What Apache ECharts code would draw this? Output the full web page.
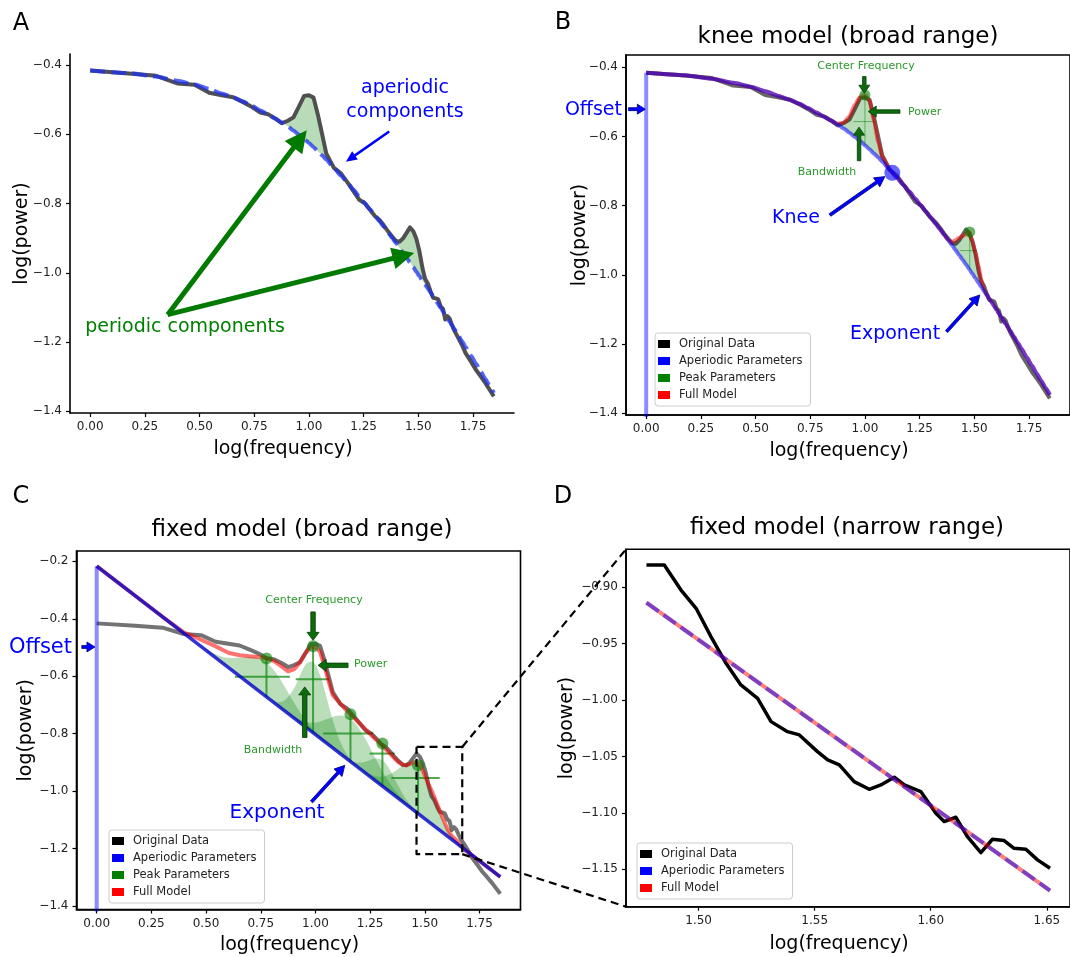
<!DOCTYPE html>
<html>
<head>
<meta charset="utf-8">
<title>Spectral parameterization: knee and fixed models</title>
<script src="https://cdn.jsdelivr.net/npm/echarts@6.0.0/dist/echarts.min.js"></script>
<style>
  html, body { margin: 0; padding: 0; background: #ffffff; }
  #chart { width: 1070px; height: 957px; }
</style>
</head>
<body>
<div id="chart"></div>
<script>
// ---------------- data ----------------
// log10(frequency) of the broad-range spectrum (1-70 Hz)
const logFreq = [0.000,0.176,0.301,0.398,0.477,0.544,0.602,0.653,0.699,0.740,
  0.778,0.813,0.845,0.875,0.903,0.929,0.954,0.978,1.000,1.021,
  1.041,1.061,1.079,
  1.114,1.146,1.176,1.204,1.230,1.255,1.279,1.301,1.322,1.342,
  1.362,1.380,1.398,1.415,1.431,1.447,1.462,1.477,1.491,1.505,
  1.519,1.531,1.544,1.556,1.568,1.580,1.591,1.602,1.613,1.623,
  1.633,1.643,1.653,
  1.663,1.681,1.699,1.716,1.740,1.763,1.785,1.806,1.826,1.845];

// measured log power
const originalPower = [-0.416,-0.424,-0.431,-0.453,-0.457,-0.480,-0.487,-0.493,-0.507,-0.521,
  -0.537,-0.542,-0.554,-0.568,-0.561,-0.551,-0.520,-0.489,-0.487,-0.494,
  -0.544,-0.602,-0.655,
  -0.697,-0.713,-0.739,-0.765,-0.789,-0.799,-0.818,-0.836,-0.847,-0.863,
  -0.881,-0.895,-0.908,-0.910,-0.900,-0.884,-0.869,-0.880,-0.902,-0.938,
  -0.987,-1.018,-1.032,-1.054,-1.072,-1.074,-1.077,-1.097,-1.104,-1.135,
  -1.125,-1.132,-1.149,
  -1.165,-1.186,-1.208,-1.232,-1.256,-1.280,-1.299,-1.318,-1.338,-1.357];

// knee model: aperiodic fit and full model
const kneeAperiodic = [-0.416,-0.423,-0.433,-0.445,-0.456,-0.469,-0.482,-0.493,-0.505,-0.518,
  -0.531,-0.543,-0.554,-0.565,-0.577,-0.589,-0.601,-0.613,-0.625,-0.637,
  -0.649,-0.661,-0.673,
  -0.697,-0.719,-0.740,-0.760,-0.780,-0.799,-0.817,-0.834,-0.851,-0.867,
  -0.884,-0.899,-0.914,-0.929,-0.943,-0.957,-0.970,-0.984,-0.997,-1.010,
  -1.023,-1.034,-1.046,-1.057,-1.069,-1.080,-1.091,-1.101,-1.112,-1.122,
  -1.132,-1.142,-1.151,
  -1.161,-1.179,-1.197,-1.214,-1.239,-1.262,-1.285,-1.306,-1.327,-1.347];

const kneeFullModel = [-0.416,-0.423,-0.433,-0.445,-0.456,-0.469,-0.482,-0.493,-0.505,-0.518,
  -0.531,-0.543,-0.554,-0.563,-0.560,-0.542,-0.508,-0.485,-0.480,-0.497,
  -0.553,-0.618,-0.658,
  -0.697,-0.719,-0.740,-0.760,-0.780,-0.799,-0.817,-0.834,-0.851,-0.867,
  -0.884,-0.899,-0.906,-0.899,-0.893,-0.888,-0.881,-0.876,-0.903,-0.935,
  -0.975,-1.012,-1.043,-1.057,-1.069,-1.080,-1.091,-1.101,-1.112,-1.122,
  -1.132,-1.142,-1.151,
  -1.161,-1.179,-1.197,-1.214,-1.239,-1.262,-1.285,-1.306,-1.327,-1.347];

// fixed model: full model and straight aperiodic fit
const fixedFullModel = [-0.217,-0.320,-0.393,-0.447,-0.473,-0.496,-0.518,-0.527,-0.530,-0.533,
  -0.538,-0.548,-0.566,-0.583,-0.575,-0.552,-0.520,-0.499,-0.499,-0.515,
  -0.565,-0.620,-0.665,
  -0.695,-0.722,-0.744,-0.766,-0.786,-0.805,-0.822,-0.838,-0.854,-0.870,
  -0.886,-0.899,-0.907,-0.910,-0.906,-0.900,-0.898,-0.908,-0.928,-0.955,
  -0.980,-0.998,-1.022,-1.045,-1.068,-1.090,-1.110,-1.130,-1.144,-1.155,
  -1.163,-1.170,-1.178,
  -1.188,-1.205,-1.213,-1.223,-1.237,-1.250,-1.263,-1.275,-1.287,-1.298];
const fixedAperiodicFreq = [0.000, 1.845];
const fixedAperiodicPower = [-0.217, -1.298];

// knee-model parameters
const kneeOffset = -0.416;
const kneePoint = [1.125, -0.705];
const kneePeakSpans = [[0.875, 1.114], [1.398, 1.556]];
const kneePeakCenters = [1.000, 1.479];
const kneePeakTops = [-0.480, -0.876];
const kneePeakBases = [-0.625, -0.986];
const kneePeakHalfLevels = [-0.557, -0.930];
const kneePeakLows = [0.947, 1.434];
const kneePeakHighs = [1.046, 1.510];

// fixed-model parameters
const fixedOffset = -0.217;
const fixedPeakCenters = [0.776, 0.989, 1.160, 1.306, 1.469];
const fixedPeakTops = [-0.538, -0.496, -0.732, -0.834, -0.910];
const fixedPeakBases = [-0.672, -0.797, -0.897, -0.982, -1.078];
const fixedPeakHalfLevels = [-0.602, -0.610, -0.799, -0.869, -0.954];
const fixedPeakLows = [0.632, 0.910, 1.035, 1.248, 1.347];
const fixedPeakHighs = [0.883, 1.062, 1.263, 1.362, 1.568];

// individual gaussians drawn on top of the fixed aperiodic fit
const gaussian1 = [[0.45,-0.481],[0.50,-0.505],[0.55,-0.525],[0.60,-0.536],[0.65,-0.536],[0.70,-0.532],
  [0.74,-0.537],[0.776,-0.552],[0.82,-0.589],[0.86,-0.637],[0.90,-0.689],[0.95,-0.748],[1.00,-0.793],[1.05,-0.829],[1.10,-0.862]];
const gaussian2 = [[0.80,-0.686],[0.85,-0.688],[0.90,-0.645],[0.93,-0.596],[0.96,-0.556],[0.989,-0.550],
  [1.02,-0.594],[1.05,-0.671],[1.08,-0.755],[1.12,-0.839],[1.16,-0.888],[1.20,-0.920]];
const gaussian3 = [[0.88,-0.733],[0.95,-0.757],[1.00,-0.761],[1.05,-0.750],[1.10,-0.737],[1.16,-0.747],
  [1.22,-0.807],[1.27,-0.879],[1.32,-0.949],[1.37,-1.003],[1.42,-1.044],[1.46,-1.073]];
const gaussian4 = [[1.16,-0.897],[1.20,-0.901],[1.24,-0.895],[1.27,-0.886],[1.306,-0.892],[1.34,-0.925],
  [1.37,-0.969],[1.41,-1.023],[1.45,-1.062],[1.49,-1.090]];
const gaussian5 = [[1.22,-0.932],[1.26,-0.944],[1.30,-0.950],[1.34,-0.941],[1.38,-0.922],[1.42,-0.902],
  [1.469,-0.908],[1.50,-0.942],[1.53,-0.998],[1.56,-1.058],[1.59,-1.111],[1.62,-1.149],[1.66,-1.186],[1.70,-1.213]];

// narrow range (30-45 Hz)
const narrowLogFreq = [1.4775,1.4852,1.4924,1.4989,1.5053,1.5118,1.5182,1.5254,1.5312,1.5383,
  1.5434,1.5512,1.5556,1.5606,1.5670,1.5735,1.5785,1.5843,1.5886,1.5957,
  1.6022,1.6058,1.6108,1.6158,1.6216,1.6266,1.6316,1.6359,1.6410,1.6460,1.6514];
const narrowPower = [-0.8802,-0.8802,-0.9024,-0.9186,-0.9437,-0.9674,-0.9866,-0.9984,-1.0191,-1.0280,
  -1.0309,-1.0457,-1.0531,-1.0575,-1.0723,-1.0791,-1.0752,-1.0684,-1.0752,-1.0811,
  -1.1003,-1.1077,-1.1039,-1.1210,-1.1352,-1.1234,-1.1246,-1.1314,-1.1323,-1.1417,-1.1491];
const narrowFitFreq = [1.4775, 1.6514];
const narrowFitPower = [-0.9136, -1.1689];

// region of the broad fixed-model plot shown in the narrow panel
const zoomBoxFreq = [1.462, 1.671];
const zoomBoxPower = [-1.219, -0.846];

// tick values
const broadFreqTicks = [0, 0.25, 0.5, 0.75, 1.0, 1.25, 1.5, 1.75];
const kneePowerTicks = [-1.4, -1.2, -1.0, -0.8, -0.6, -0.4];
const fixedPowerTicks = [-1.4, -1.2, -1.0, -0.8, -0.6, -0.4, -0.2];
const narrowFreqTicks = [1.50, 1.55, 1.60, 1.65];
const narrowPowerTicks = [-1.15, -1.10, -1.05, -1.00, -0.95, -0.90];

// ---------------- helpers ----------------
const FONT = 'DejaVu Sans';
const BLUE = '#0000ff';
const GREEN_TXT = '#2a982a';
const ARROW_GREEN = '#0d6b0d';

const fmt = d => v => (v < -1e-9 ? '\u2212' : '') + Math.abs(v).toFixed(d);
const pairs = (xs, ys) => xs.map((x, i) => [x, ys[i]]);

function axisBase(gridIndex, min, max, ticks, decimals, name, nameGap, namePadding) {
  return {
    type: 'value', gridIndex, min, max, name, nameLocation: 'middle', nameGap,
    nameMoveOverlap: false,
    nameTextStyle: { fontFamily: FONT, fontSize: 19, color: '#000', padding: namePadding || 0 },
    axisLine: { show: true, onZero: false, lineStyle: { color: '#000', width: 1.6 } },
    axisTick: { show: true, length: 4, lineStyle: { color: '#000', width: 1.2 }, customValues: ticks },
    axisLabel: { customValues: ticks, formatter: fmt(decimals), fontFamily: FONT, fontSize: 12, color: '#222', margin: 8 },
    splitLine: { show: false }
  };
}

function lineSeries(gridIndex, data, lineStyle, extra) {
  return Object.assign({
    type: 'line', xAxisIndex: gridIndex, yAxisIndex: gridIndex, data,
    symbol: 'none', showSymbol: false, silent: true,
    lineStyle: Object.assign({ join: 'round', cap: 'butt' }, lineStyle)
  }, extra || {});
}

function fillSeries(gridIndex, pts, fill, smooth) {
  return {
    type: 'custom', xAxisIndex: gridIndex, yAxisIndex: gridIndex, silent: true,
    data: pts, encode: { x: 0, y: 1 },
    renderItem: (params, api) => {
      if (params.dataIndex !== 0) return null;
      const points = pts.map(p => api.coord(p));
      if (smooth) {
        return { type: 'polyline', shape: { points, smooth }, style: { fill, stroke: 'none', lineWidth: 0 } };
      }
      return { type: 'polygon', shape: { points }, style: { fill, stroke: 'none', lineWidth: 0 } };
    }
  };
}

// area between an upper and a lower curve over a span of logFreq
function spanPolygon(upper, lower, span) {
  const idx = [];
  logFreq.forEach((x, i) => { if (x >= span[0] - 1e-9 && x <= span[1] + 1e-9) idx.push(i); });
  const top = idx.map(i => [logFreq[i], upper[i]]);
  const bottom = idx.slice().reverse().map(i => [logFreq[i], lower[i]]);
  return top.concat(bottom);
}

function crossSeries(gridIndex, centers, tops, bases, halfs, lows, highs, color, width) {
  return {
    type: 'custom', xAxisIndex: gridIndex, yAxisIndex: gridIndex, silent: true,
    data: centers.map((c, i) => [c, tops[i], bases[i], halfs[i], lows[i], highs[i]]),
    encode: { x: [0, 4, 5], y: [1, 2, 3] },
    renderItem: (params, api) => {
      const c = api.value(0), t = api.value(1), b = api.value(2), h = api.value(3), lo = api.value(4), hi = api.value(5);
      const v1 = api.coord([c, t]), v2 = api.coord([c, b]);
      const h1 = api.coord([lo, h]), h2 = api.coord([hi, h]);
      return { type: 'group', children: [
        { type: 'line', shape: { x1: v1[0], y1: v1[1], x2: v2[0], y2: v2[1] }, style: { stroke: color, lineWidth: width } },
        { type: 'line', shape: { x1: h1[0], y1: h1[1], x2: h2[0], y2: h2[1] }, style: { stroke: color, lineWidth: width } }
      ] };
    }
  };
}

// block arrows (shaft + triangular head), tail and tip given in data coordinates
function arrowSeries(gridIndex, arrows) {
  return {
    type: 'custom', xAxisIndex: gridIndex, yAxisIndex: gridIndex, silent: true, clip: false, z: 6,
    data: arrows.map(a => [a.from[0], a.from[1], a.to[0], a.to[1]]),
    encode: { x: [0, 2], y: [1, 3] },
    renderItem: (params, api) => {
      const a = arrows[params.dataIndex];
      const p1 = api.coord([api.value(0), api.value(1)]);
      const p2 = api.coord([api.value(2), api.value(3)]);
      const dx = p2[0] - p1[0], dy = p2[1] - p1[1];
      const len = Math.hypot(dx, dy) || 1;
      const ux = dx / len, uy = dy / len, nx = -uy, ny = ux;
      const bx = p2[0] - ux * a.headLen, by = p2[1] - uy * a.headLen;
      const s = a.shaft / 2, w = a.headHalf;
      const points = [
        [p1[0] + nx * s, p1[1] + ny * s], [bx + nx * s, by + ny * s], [bx + nx * w, by + ny * w],
        [p2[0], p2[1]],
        [bx - nx * w, by - ny * w], [bx - nx * s, by - ny * s], [p1[0] - nx * s, p1[1] - ny * s]
      ];
      return { type: 'polygon', shape: { points },
        style: { fill: a.color, stroke: a.edge || 'none', lineWidth: a.edge ? 0.8 : 0 } };
    }
  };
}

function dots(gridIndex, data, size, color) {
  return { type: 'scatter', xAxisIndex: gridIndex, yAxisIndex: gridIndex, data, symbolSize: size,
    itemStyle: { color, opacity: 1 }, silent: true, z: 4 };
}

const legendColors = { 'Original Data': '#000000', 'Aperiodic Parameters': '#0000ff', 'Peak Parameters': '#008000', 'Full Model': '#ff0000' };
function legendCfg(left, top, names) {
  return {
    left, top, orient: 'vertical', icon: 'rect', itemWidth: 12, itemHeight: 8, itemGap: 5,
    selectedMode: false, padding: [5, 8, 5, 3],
    backgroundColor: 'rgba(255,255,255,0.85)', borderColor: '#cccccc', borderWidth: 1, borderRadius: 3,
    textStyle: { fontFamily: FONT, fontSize: 11.5, color: '#222', padding: [0, 0, 0, 4] },
    data: names.map(n => ({ name: n, itemStyle: { color: legendColors[n], opacity: 1, borderWidth: 0 } }))
  };
}

function text(id, str, x, y, size, color, align) {
  return { id, type: 'text', x, y, z: 100, silent: true,
    style: { text: str, fontFamily: FONT, fontSize: size, fill: color,
      align: align || 'center', verticalAlign: 'middle',
      textAlign: align || 'center', textVerticalAlign: 'middle' } };
}

// ---------------- annotation arrows ----------------
const greenBig = { color: '#007a00', shaft: 5, headLen: 22, headHalf: 11 };
const blueThin = { color: BLUE, shaft: 2.5, headLen: 11, headHalf: 5 };
const blueArrow = { color: BLUE, edge: '#00007a', shaft: 3, headLen: 10, headHalf: 5.5 };
const blueShort = { color: BLUE, edge: '#00007a', shaft: 3, headLen: 8, headHalf: 5 };
const greenSmall = { color: ARROW_GREEN, edge: '#043d04', shaft: 3.5, headLen: 8, headHalf: 5.5 };

const arrowsA = [
  Object.assign({ from: [0.354, -1.121], to: [0.990, -0.588] }, greenBig),
  Object.assign({ from: [0.354, -1.121], to: [1.481, -0.943] }, greenBig),
  Object.assign({ from: [1.367, -0.592], to: [1.169, -0.679] }, blueThin)
];
const arrowsB = [
  Object.assign({ from: [-0.081, -0.521], to: [-0.004, -0.521] }, blueShort),
  Object.assign({ from: [0.997, -0.427], to: [0.997, -0.475] }, greenSmall),
  Object.assign({ from: [1.160, -0.528], to: [1.015, -0.528] }, greenSmall),
  Object.assign({ from: [0.973, -0.670], to: [0.973, -0.573] }, greenSmall),
  Object.assign({ from: [0.840, -0.827], to: [1.091, -0.716] }, blueArrow),
  Object.assign({ from: [1.373, -1.164], to: [1.525, -1.058] }, blueArrow)
];
const arrowsC = [
  Object.assign({ from: [-0.068, -0.498], to: [-0.008, -0.498] }, blueShort),
  Object.assign({ from: [0.989, -0.376], to: [0.989, -0.475] }, greenSmall, { shaft: 4.5, headHalf: 6 }),
  Object.assign({ from: [1.149, -0.562], to: [1.012, -0.562] }, greenSmall, { shaft: 4.5, headHalf: 6 }),
  Object.assign({ from: [0.951, -0.813], to: [0.951, -0.637] }, greenSmall, { shaft: 4.5, headHalf: 6 }),
  Object.assign({ from: [0.982, -1.037], to: [1.134, -0.910] }, blueArrow)
];

// ---------------- option ----------------
const broadX = [-0.0923, 1.9373];
const narrowX = [1.4687, 1.6600];
const narrowY = [-1.1832, -0.8663];
const frame = { show: true, borderColor: '#000', borderWidth: 1.6, backgroundColor: 'transparent', outerBoundsMode: 'none', containLabel: false };
const xNamePad = [0, 18, 0, 0];

const series = [
  // legend entries (one per label, shared by all legends)
  { type: 'scatter', name: 'Original Data', xAxisIndex: 3, yAxisIndex: 3, data: [], itemStyle: { color: '#000', opacity: 1 } },
  { type: 'scatter', name: 'Aperiodic Parameters', xAxisIndex: 3, yAxisIndex: 3, data: [], itemStyle: { color: '#0000ff', opacity: 1 } },
  { type: 'scatter', name: 'Peak Parameters', xAxisIndex: 3, yAxisIndex: 3, data: [], itemStyle: { color: '#008000', opacity: 1 } },
  { type: 'scatter', name: 'Full Model', xAxisIndex: 3, yAxisIndex: 3, data: [], itemStyle: { color: '#ff0000', opacity: 1 } },

  // ---- A: data with knee aperiodic fit ----
  ...kneePeakSpans.map(sp => fillSeries(0, spanPolygon(originalPower, kneeAperiodic, sp), 'rgba(0,128,0,0.28)')),
  lineSeries(0, pairs(logFreq, originalPower), { color: '#505050', width: 4 }),
  lineSeries(0, pairs(logFreq, kneeAperiodic), { color: 'rgba(30,50,240,0.75)', width: 4, type: [15, 6] }, { smooth: 0.2, smoothMonotone: 'x' }),
  arrowSeries(0, arrowsA),

  // ---- B: knee model ----
  lineSeries(1, pairs(logFreq, originalPower), { color: 'rgba(0,0,0,0.6)', width: 4 }),
  ...kneePeakSpans.map(sp => fillSeries(1, spanPolygon(kneeFullModel, kneeAperiodic, sp), 'rgba(0,128,0,0.28)')),
  lineSeries(1, pairs(logFreq, kneeFullModel), { color: 'rgba(255,0,0,0.5)', width: 4 }, { smooth: 0.2, smoothMonotone: 'x' }),
  lineSeries(1, pairs(logFreq, kneeAperiodic), { color: 'rgba(0,0,255,0.55)', width: 4 }, { smooth: 0.2, smoothMonotone: 'x' }),
  lineSeries(1, [[0, -1.42], [0, kneeOffset]], { color: 'rgba(0,0,255,0.45)', width: 4 }),
  crossSeries(1, kneePeakCenters, kneePeakTops, kneePeakBases, kneePeakHalfLevels, kneePeakLows, kneePeakHighs, 'rgba(0,128,0,0.5)', 1),
  dots(1, pairs(kneePeakCenters, kneePeakTops), 11, 'rgba(0,128,0,0.6)'),
  dots(1, [kneePoint], 16, 'rgba(0,0,255,0.6)'),
  arrowSeries(1, arrowsB),

  // ---- C: fixed model, broad range ----
  ...[gaussian1, gaussian2, gaussian3, gaussian4, gaussian5].map(g => fillSeries(2, g, 'rgba(0,128,0,0.27)', 0.35)),
  lineSeries(2, pairs(logFreq, originalPower), { color: 'rgba(0,0,0,0.55)', width: 4 }),
  lineSeries(2, pairs(logFreq, fixedFullModel), { color: 'rgba(255,0,0,0.55)', width: 4 }),
  lineSeries(2, pairs(fixedAperiodicFreq, fixedAperiodicPower), { color: 'rgba(0,0,200,0.8)', width: 3.5 }),
  lineSeries(2, [[0, -1.42], [0, fixedOffset]], { color: 'rgba(0,0,255,0.45)', width: 4 }),
  crossSeries(2, fixedPeakCenters, fixedPeakTops, fixedPeakBases, fixedPeakHalfLevels, fixedPeakLows, fixedPeakHighs, 'rgba(20,140,20,0.75)', 2),
  dots(2, pairs(fixedPeakCenters, fixedPeakTops), 12, 'rgba(0,128,0,0.6)'),
  lineSeries(2, [[zoomBoxFreq[0], zoomBoxPower[1]], [zoomBoxFreq[1], zoomBoxPower[1]], [zoomBoxFreq[1], zoomBoxPower[0]],
                 [zoomBoxFreq[0], zoomBoxPower[0]], [zoomBoxFreq[0], zoomBoxPower[1]]],
             { color: '#000', width: 2.2, type: [8, 5] }, { z: 5 }),
  arrowSeries(2, arrowsC),

  // ---- D: fixed model, narrow range ----
  lineSeries(3, pairs(narrowLogFreq, narrowPower), { color: '#000', width: 3.5 }),
  lineSeries(3, pairs(narrowFitFreq, narrowFitPower), { color: 'rgba(255,0,0,0.5)', width: 4 }),
  lineSeries(3, pairs(narrowFitFreq, narrowFitPower), { color: 'rgba(0,0,255,0.5)', width: 4, type: [15, 6] })
];

const graphicTexts = [
  text('lA', 'A', 21, 24, 24, '#000'),
  text('lB', 'B', 563, 23, 24, '#000'),
  text('lC', 'C', 21, 497, 24, '#000'),
  text('lD', 'D', 563, 497, 24, '#000'),
  text('tB', 'knee model (broad range)', 848, 37, 23, '#000'),
  text('tC', 'fixed model (broad range)', 302, 530, 23, '#000'),
  text('tD', 'fixed model (narrow range)', 847, 528, 23, '#000'),
  // A
  text('aA1', 'aperiodic', 405, 88, 19, BLUE),
  text('aA2', 'components', 405, 112, 19, BLUE),
  text('aA3', 'periodic components', 185, 327, 19, '#008000'),
  // B
  text('aB1', 'Offset', 622, 110, 19, BLUE, 'right'),
  text('aB2', 'Knee', 796, 218, 19, BLUE),
  text('aB3', 'Exponent', 895, 334, 19, BLUE),
  text('aB4', 'Center Frequency', 866, 66, 11, GREEN_TXT),
  text('aB5', 'Power', 908, 112, 11, GREEN_TXT, 'left'),
  text('aB6', 'Bandwidth', 827, 172, 11, GREEN_TXT),
  // C
  text('aC1', 'Offset', 72, 648, 21, BLUE, 'right'),
  text('aC2', 'Exponent', 277, 813, 20, BLUE),
  text('aC3', 'Center Frequency', 314, 600, 11, GREEN_TXT),
  text('aC4', 'Power', 354, 664.5, 11, GREEN_TXT, 'left'),
  text('aC5', 'Bandwidth', 273, 750, 11, GREEN_TXT)
];

const option = {
  animation: false,
  backgroundColor: '#ffffff',
  textStyle: { fontFamily: FONT },
  grid: [
    { left: 70, top: 54, width: 444, height: 359, show: false, outerBoundsMode: 'none', containLabel: false },
    Object.assign({ left: 626, top: 55, width: 444, height: 360 }, frame),
    Object.assign({ left: 76.5, top: 551, width: 444, height: 358.5 }, frame),
    Object.assign({ left: 626, top: 549.3, width: 444, height: 357.4 }, frame)
  ],
  xAxis: [
    axisBase(0, broadX[0], broadX[1], broadFreqTicks, 2, 'log(frequency)', 27, xNamePad),
    axisBase(1, broadX[0], broadX[1], broadFreqTicks, 2, 'log(frequency)', 27, xNamePad),
    axisBase(2, broadX[0], broadX[1], broadFreqTicks, 2, 'log(frequency)', 26, xNamePad),
    axisBase(3, narrowX[0], narrowX[1], narrowFreqTicks, 2, 'log(frequency)', 28, xNamePad)
  ],
  yAxis: [
    axisBase(0, -1.405, -0.368, kneePowerTicks, 1, 'log(power)', 38),
    axisBase(1, -1.405, -0.3645, kneePowerTicks, 1, 'log(power)', 36),
    axisBase(2, -1.4115, -0.1642, fixedPowerTicks, 1, 'log(power)', 41),
    axisBase(3, narrowY[0], narrowY[1], narrowPowerTicks, 2, 'log(power)', 49)
  ],
  legend: [
    legendCfg(655, 333, ['Original Data', 'Aperiodic Parameters', 'Peak Parameters', 'Full Model']),
    legendCfg(109, 830, ['Original Data', 'Aperiodic Parameters', 'Peak Parameters', 'Full Model']),
    legendCfg(637, 843, ['Original Data', 'Aperiodic Parameters', 'Full Model'])
  ],
  series,
  graphic: graphicTexts
};

const chart = echarts.init(document.getElementById('chart'), null, { renderer: 'canvas' });
chart.setOption(option);

// dashed connectors from the zoom box to the narrow-range panel
const boxTop = chart.convertToPixel({ gridIndex: 2 }, [zoomBoxFreq[1], zoomBoxPower[1]]);
const boxBottom = chart.convertToPixel({ gridIndex: 2 }, [zoomBoxFreq[1], zoomBoxPower[0]]);
const dTop = chart.convertToPixel({ gridIndex: 3 }, [narrowX[0], narrowY[1]]);
const dBottom = chart.convertToPixel({ gridIndex: 3 }, [narrowX[0], narrowY[0]]);
const connStyle = { stroke: '#000', lineWidth: 2.2, lineDash: [8, 5] };
option.graphic = graphicTexts.concat([
  { id: 'conn1', type: 'line', z: 90, silent: true, shape: { x1: boxTop[0], y1: boxTop[1], x2: dTop[0], y2: dTop[1] }, style: connStyle },
  { id: 'conn2', type: 'line', z: 90, silent: true, shape: { x1: boxBottom[0], y1: boxBottom[1], x2: dBottom[0], y2: dBottom[1] }, style: connStyle }
]);
chart.setOption(option, true);
</script>
</body>
</html>
